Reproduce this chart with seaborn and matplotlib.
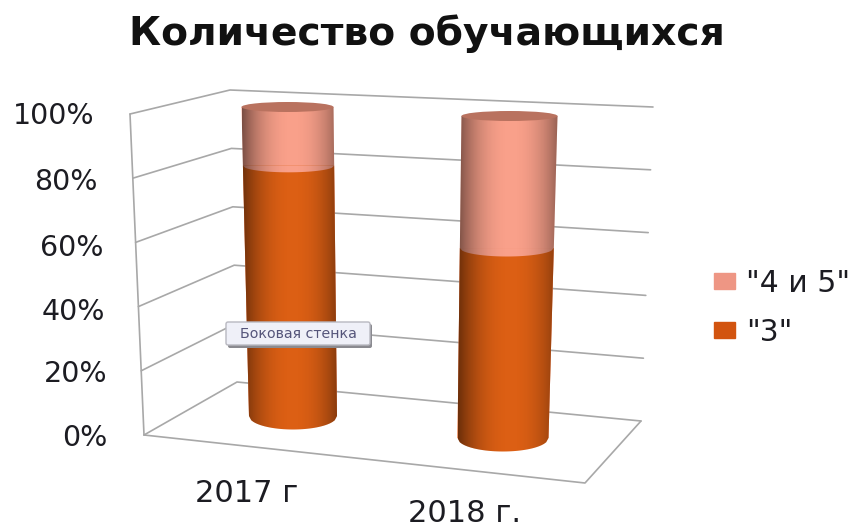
import numpy as np
import pandas as pd
import matplotlib
matplotlib.use("Agg")
import matplotlib.pyplot as plt
from matplotlib.patches import Polygon, Ellipse, Patch, FancyBboxPatch
from matplotlib.transforms import Affine2D, Transform
import seaborn as sns

# Data
years = ["2017 г", "2018 г."]
share_three = [81, 59]
share_four_five = [19, 41]
value_ticks = [0, 20, 40, 60, 80, 100]
tick_labels = ["0%", "20%", "40%", "60%", "80%", "100%"]
legend_labels = ['"4 и 5"', '"3"']
title_text = "Количество обучающихся"
tooltip_text = "Боковая стенка"

W, H = 864, 530
ORANGE = "#dc5f14"
PINK = "#f9a08a"
CAP = "#b9725f"
GRID = "#a8a8a8"
TEXT = "#1c1c22"

sns.set_theme(style="white")
plt.rcParams["font.family"] = ["DejaVu Sans"]

fig = plt.figure(figsize=(W / 100, H / 100), dpi=100, facecolor="white")
pix = Affine2D().scale(1, -1).translate(0, H)

BAR_WIDTH = 0.42
# Column geometry in pixels from the top left: centre and half width at 0 and at 100 percent
BASE_CENTRE = [(293, 416), (503, 438)]
TOP_CENTRE = [(287.5, 107), (509.5, 116)]
BASE_HALF = [44, 45.5]
TOP_HALF = [46, 48]


class ColumnProjection(Transform):
    """Maps (category position, percent) to display pixels on tapered upright columns."""
    input_dims = output_dims = 2
    is_separable = False
    has_inverse = False

    def transform_non_affine(self, values):
        values = np.atleast_2d(np.asarray(values, float))
        idx = np.clip(np.round(values[:, 0]).astype(int), 0, len(BASE_HALF) - 1)
        frac = values[:, 1] / 100
        base, top = np.array(BASE_CENTRE, float)[idx], np.array(TOP_CENTRE, float)[idx]
        half = np.array(BASE_HALF, float)[idx] * (1 - frac) + np.array(TOP_HALF, float)[idx] * frac
        cx = base[:, 0] + (top[:, 0] - base[:, 0]) * frac
        cy = base[:, 1] + (top[:, 1] - base[:, 1]) * frac
        px = cx + (values[:, 0] - idx) / (BAR_WIDTH / 2) * half
        return np.c_[px, H - cy]


column_plane = ColumnProjection()

ax = fig.add_axes([0, 0, 1, 1])
ax.patch.set_alpha(0)

frame = pd.DataFrame({
    "year": years,
    "three": share_three,
    "total": np.add(share_three, share_four_five),
})
sns.barplot(data=frame, x="year", y="total", color=PINK, saturation=1, width=BAR_WIDTH, ax=ax, zorder=2)
sns.barplot(data=frame, x="year", y="three", color=ORANGE, saturation=1, width=BAR_WIDTH, ax=ax, zorder=2)
ax.set_axis_off()
for bar in ax.patches:
    bar.set_transform(column_plane)
    bar.set_clip_on(False)
    bar.set_linewidth(0)


def on_plane(x, v):
    p = column_plane.transform_non_affine([[x, v]])[0]
    return p[0], H - p[1]


def depth(v):
    return 13.5 + (5 - 13.5) * v / 100


def front_arc(i, v, n=40):
    l, r = on_plane(i - BAR_WIDTH / 2, v), on_plane(i + BAR_WIDTH / 2, v)
    t = np.linspace(0, 1, n)
    xs = l[0] + (r[0] - l[0]) * t
    ys = l[1] + (r[1] - l[1]) * t + depth(v) * np.sqrt(np.clip(1 - (2 * t - 1) ** 2, 0, 1))
    return np.c_[xs, ys]


# Walls and floor
front_left = {0: (144, 435), 100: (130, 114)}
back_left = {0: (237, 382), 100: (230, 90)}
back_right = {0: (641, 421), 100: (653, 107)}
floor_front_right = (585, 483)


def along(edge, v):
    a, b = np.array(edge[0], float), np.array(edge[100], float)
    return a + (b - a) * v / 100


line_style = dict(color=GRID, lw=1.2, transform=pix, zorder=1, solid_capstyle="round", clip_on=False)
for v in value_ticks:
    pts = np.array([along(front_left, v), along(back_left, v), along(back_right, v)])
    ax.plot(pts[:, 0], pts[:, 1], **line_style)
ax.plot(*np.array([along(front_left, 0), along(front_left, 100)]).T, **line_style)
ax.plot(*np.array([along(front_left, 0), floor_front_right, along(back_right, 0)]).T, **line_style)

# Rounded ends of the columns, and the shading that wraps around them
shade = fig.add_axes([0, 0, 1, 1], zorder=3)
shade.patch.set_alpha(0)
shade.set_axis_off()
t = np.linspace(-1, 1, 256)
glow = np.zeros((1, 256, 4))
glow[..., 3] = 0.45 * np.abs(t - 0.06) ** 2.2
for i, (three, four_five) in enumerate(zip(share_three, share_four_five)):
    total = three + four_five
    base = front_arc(i, 0)
    seam = front_arc(i, three)
    top_l, top_r = on_plane(i - BAR_WIDTH / 2, total), on_plane(i + BAR_WIDTH / 2, total)
    shade.add_patch(Polygon(base, color=ORANGE, lw=0, zorder=1))
    shade.add_patch(Polygon(seam, color=PINK, lw=0, zorder=1))
    outline = np.vstack([base, [top_r], [top_l]])
    im = shade.imshow(glow, extent=(min(top_l[0], base[0, 0]), max(top_r[0], base[-1, 0]), H, 0),
                      aspect="auto", zorder=2, interpolation="bilinear")
    clip = Polygon(outline, transform=shade.transData, fill=False, lw=0)
    im.set_clip_path(clip)
    shade.add_patch(Ellipse(((top_l[0] + top_r[0]) / 2, (top_l[1] + top_r[1]) / 2),
                            top_r[0] - top_l[0], 2 * depth(total), color=CAP, lw=0, zorder=3))
shade.set_xlim(0, W)
shade.set_ylim(H, 0)

# Text
shade.text(427, 34, title_text, ha="center", va="center", fontsize=28.3, fontweight="bold", color="#111111")
tick_right = [108, 107, 105, 103, 98, 95]
tick_y = [437.5, 374.5, 311.5, 247.5, 182, 115.5]
for label, x, y in zip(tick_labels, tick_right, tick_y):
    shade.text(x, y, label, ha="right", va="center", fontsize=20.5, color=TEXT)
for label, x, y in zip(years, [247, 465], [493, 513]):
    shade.text(x, y, label, ha="center", va="center", fontsize=22, color=TEXT)

# Hover label over the first column
shade.add_patch(FancyBboxPatch((228, 324), 144, 24, boxstyle="round,pad=0,rounding_size=2",
                               fc="#8a8a90", ec="none", zorder=4))
shade.add_patch(FancyBboxPatch((226, 322), 144, 23, boxstyle="round,pad=0,rounding_size=2",
                               fc="#eff0f8", ec="#b8b8c0", lw=1, zorder=5))
shade.text(298, 333.5, tooltip_text, ha="center", va="center", fontsize=10.2, color="#55557a", zorder=6)

handles = [Patch(color="#ee9684"), Patch(color="#d2540f")]
shade.legend(handles, legend_labels, loc="upper left", bbox_to_anchor=(687 / W, 1 - 242 / H),
             bbox_transform=fig.transFigure, frameon=False, fontsize=21.5, labelcolor=TEXT,
             handlelength=0.7, handleheight=0.45, handletextpad=0.37, labelspacing=0.66)

fig.savefig("out.png", dpi=100, facecolor="white")
